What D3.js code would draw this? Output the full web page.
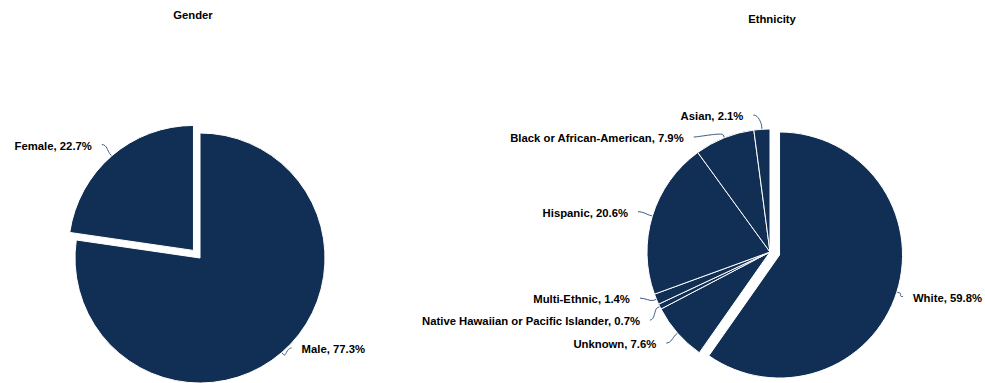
<!DOCTYPE html>
<html>
<head>
<meta charset="utf-8">
<script src="https://cdn.jsdelivr.net/npm/d3@7"></script>
<style>
  html, body { margin: 0; padding: 0; background: #ffffff; }
  svg { display: block; font-family: "Liberation Sans", Arial, Helvetica, sans-serif; }
</style>
</head>
<body>
<svg id="chart" width="985" height="383"></svg>
<script>
// ---- data ----
const genderLabels = ["Male", "Female"];
const genderValues = [77.3, 22.7];
const genderSliced = ["Female"];

const ethnicityLabels = [
  "White",
  "Unknown",
  "Native Hawaiian or Pacific Islander",
  "Multi-Ethnic",
  "Hispanic",
  "Black or African-American",
  "Asian"
];
const ethnicityValues = [59.8, 7.6, 0.7, 1.4, 20.6, 7.9, 2.1];
const ethnicitySliced = ["White"];

const chartTitles = ["Gender", "Ethnicity"];

// ---- styling / layout ----
const width = 985;
const sliceColor = "#112f54";
const connectorColor = "#3f5c7e";
const fontSize = "11.3px";
const slicedOffset = 10;
const labelDistance = 15;
const labelPadding = 10;
const labelSpacing = 22;
const labelTop = 115;
const labelBottom = 348;
const edgeMargin = 3;

const svg = d3.select("#chart");

const pies = [
  { title: chartTitles[0], labels: genderLabels, values: genderValues, sliced: genderSliced,
    cx: 200, cy: 258, r: 125, titleX: 193, titleY: 19 },
  { title: chartTitles[1], labels: ethnicityLabels, values: ethnicityValues, sliced: ethnicitySliced,
    cx: 770, cy: 252, r: 123, titleX: 772, titleY: 23 }
];

const pieLayout = d3.pie().sort(null).value(d => d.value)
  .startAngle(0).endAngle(2 * Math.PI);

// spread labels on one side so they keep a minimum vertical gap
function distribute(items) {
  items.sort((a, b) => a.ny - b.ny);
  const clusters = [];
  function place(c) {
    const n = c.items.length;
    let s = d3.mean(c.items, (d, i) => d.ny - i * labelSpacing);
    s = Math.max(labelTop, Math.min(labelBottom - (n - 1) * labelSpacing, s));
    c.start = s;
  }
  items.forEach(it => {
    const c = { items: [it] };
    place(c);
    clusters.push(c);
    while (clusters.length > 1) {
      const cur = clusters[clusters.length - 1];
      const prev = clusters[clusters.length - 2];
      if (prev.start + prev.items.length * labelSpacing > cur.start) {
        clusters.pop();
        prev.items = prev.items.concat(cur.items);
        place(prev);
      } else break;
    }
  });
  clusters.forEach(c => c.items.forEach((d, i) => {
    d.y = c.start + i * labelSpacing;
    d.spread = c.items.length > 1;
  }));
}

pies.forEach(p => {
  const data = p.labels.map((l, i) => ({ label: l, value: p.values[i] }));
  const arcs = pieLayout(data);
  const arcGen = d3.arc().innerRadius(0).outerRadius(p.r);
  const R = p.r + labelDistance;

  const g = svg.append("g");

  // title
  svg.append("text")
    .attr("x", p.titleX).attr("y", p.titleY)
    .attr("text-anchor", "middle")
    .style("font-size", fontSize).style("font-weight", "bold")
    .attr("fill", "#000")
    .text(p.title);

  // slice geometry
  arcs.forEach(a => {
    a.mid = (a.startAngle + a.endAngle) / 2;
    const sx = Math.sin(a.mid), sy = -Math.cos(a.mid);
    const off = p.sliced.includes(a.data.label) ? slicedOffset : 0;
    a.ox = p.cx + off * sx;
    a.oy = p.cy + off * sy;
    a.left = a.mid > Math.PI;
    a.nx = a.ox + R * sx;
    a.ny = a.oy + R * sy;
    a.tx = a.ox + p.r * sx;
    a.ty = a.oy + p.r * sy;
    a.bx = a.ox + (p.r + 3) * sx;
    a.by = a.oy + (p.r + 3) * sy;
  });

  // slices
  g.selectAll("path.slice").data(arcs).join("path")
    .attr("class", "slice")
    .attr("transform", d => `translate(${d.ox},${d.oy})`)
    .attr("d", arcGen)
    .attr("fill", sliceColor)
    .attr("stroke", "#ffffff")
    .attr("stroke-width", 1)
    .attr("stroke-linejoin", "round");

  // label placement: stacked labels follow the label circle,
  // others keep their natural x
  distribute(arcs.filter(a => a.left));
  distribute(arcs.filter(a => !a.left));
  arcs.forEach(a => {
    if (a.spread) {
      const dy = a.y - a.oy;
      const dx = Math.sqrt(Math.max(0, R * R - dy * dy));
      a.x = a.ox + (a.left ? -dx : dx);
    } else {
      a.x = a.nx;
    }
  });

  // labels (drawn first so their widths can keep them inside the frame)
  const labels = g.selectAll("text.label").data(arcs).join("text")
    .attr("class", "label")
    .attr("text-anchor", a => a.left ? "end" : "start")
    .style("font-size", fontSize).style("font-weight", "bold")
    .attr("fill", "#000")
    .attr("stroke", "#fff").attr("stroke-width", 2).attr("paint-order", "stroke")
    .attr("stroke-linejoin", "round")
    .text(a => `${a.data.label}, ${a.data.value}%`);

  labels.each(function (a) {
    const w = this.getComputedTextLength();
    if (a.left) {
      const start = a.x - labelPadding - w;
      if (start < edgeMargin) a.x += edgeMargin - start;
    } else {
      const end = a.x + labelPadding + w;
      if (end > width - edgeMargin) a.x -= end - (width - edgeMargin);
    }
  });

  labels
    .attr("x", a => a.x + (a.left ? -labelPadding : labelPadding))
    .attr("y", a => a.y + 5);

  // connectors
  g.selectAll("path.connector").data(arcs).join("path")
    .attr("class", "connector")
    .attr("fill", "none")
    .attr("stroke", connectorColor)
    .attr("stroke-width", 1)
    .attr("d", a => {
      const c1x = a.x + (a.left ? 5 : -5);
      const c2x = 2 * a.bx - a.tx, c2y = 2 * a.by - a.ty;
      return `M${a.x},${a.y}C${c1x},${a.y} ${c2x},${c2y} ${a.bx},${a.by}L${a.tx},${a.ty}`;
    })
    .lower();
});
</script>
</body>
</html>
